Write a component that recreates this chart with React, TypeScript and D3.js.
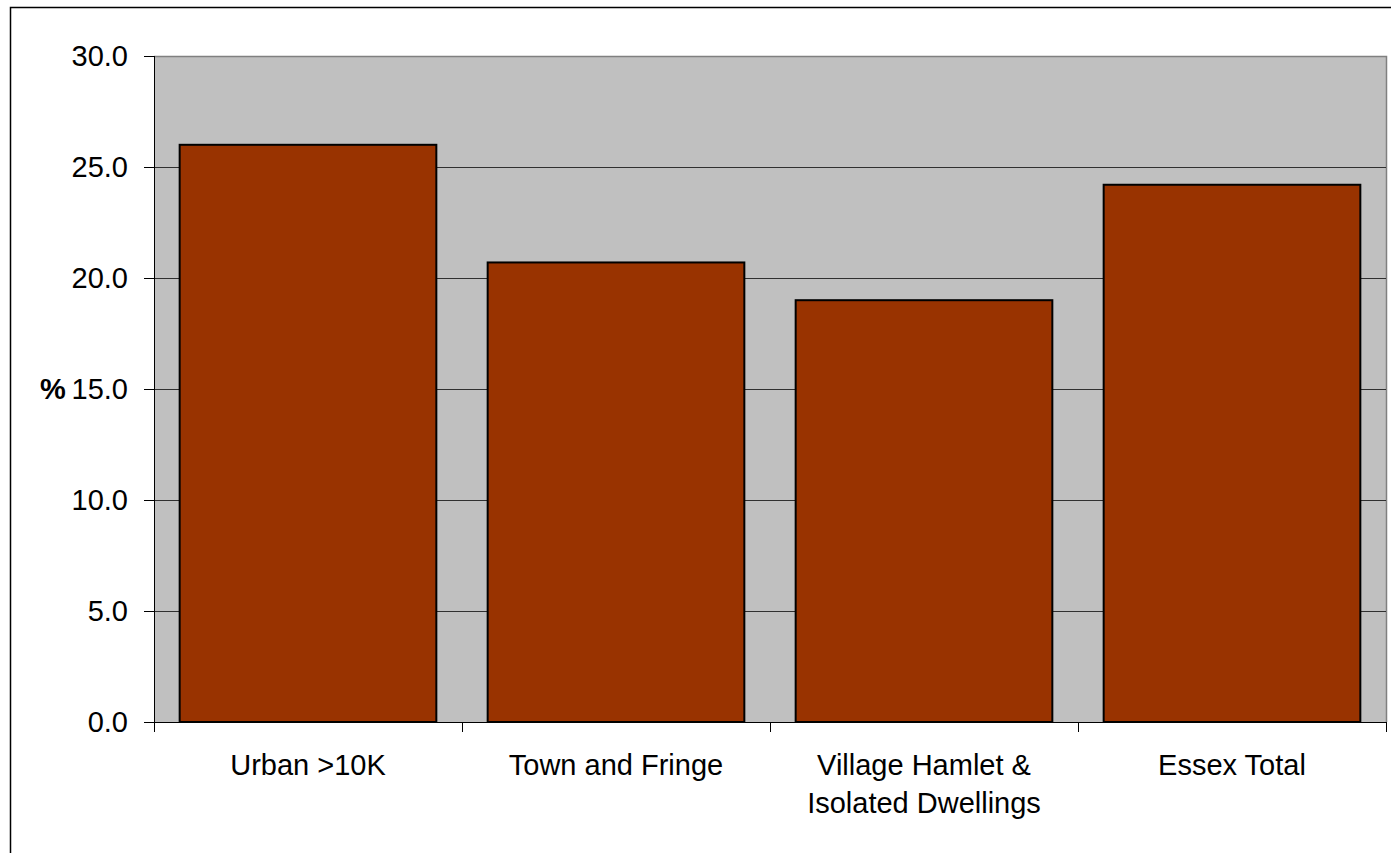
import React from "react";
import * as d3 from "d3";

const categories: string[][] = [
  ["Urban >10K"],
  ["Town and Fringe"],
  ["Village Hamlet &", "Isolated Dwellings"],
  ["Essex Total"],
];
const values: number[] = [26.0, 20.7, 19.0, 24.2];
const yTicks: number[] = [0, 5, 10, 15, 20, 25, 30];
const yAxisTitle = "%";

const W = 1391;
const H = 853;
const plot = { left: 154, right: 1386, top: 56, bottom: 722 };
const FONT = "'Liberation Sans', Arial, sans-serif";

export default function App() {
  const keys = categories.map((_, i) => String(i));
  const x = d3
    .scaleBand<string>()
    .domain(keys)
    .range([plot.left, plot.right])
    .paddingInner(1 / 6)
    .paddingOuter(1 / 12);
  const xOuter = d3.scaleBand<string>().domain(keys).range([plot.left, plot.right]);
  const y = d3.scaleLinear().domain([0, 30]).range([plot.bottom, plot.top]);

  return (
    <svg
      width={W}
      height={H}
      style={{ position: "absolute", left: 0, top: 0, background: "#fff" }}
      fontFamily={FONT}
    >
      {/* outer chart frame */}
      <path d={`M10.5,${H + 5} V7.5 H${W + 5}`} fill="none" stroke="#000" strokeWidth={1.5} />
      {/* plot area */}
      <rect
        x={plot.left}
        y={plot.top}
        width={plot.right - plot.left}
        height={plot.bottom - plot.top}
        fill="#C0C0C0"
      />
      <path
        d={`M${plot.left},${plot.top + 0.5} H${plot.right + 0.5} V${plot.bottom}`}
        fill="none"
        stroke="#808080"
        strokeWidth={1.5}
      />
      {/* gridlines */}
      {yTicks
        .filter((t) => t !== 0 && t !== 30)
        .map((t) => (
          <line
            key={"g" + t}
            x1={plot.left}
            x2={plot.right}
            y1={Math.round(y(t)) + 0.5}
            y2={Math.round(y(t)) + 0.5}
            stroke="#000"
            strokeWidth={1}
            opacity={0.75}
          />
        ))}
      {/* bars */}
      {values.map((v, i) => (
        <rect
          key={"b" + i}
          x={x(String(i))!}
          y={y(v)}
          width={x.bandwidth()}
          height={y(0) - y(v)}
          fill="#993300"
          stroke="#000"
          strokeWidth={2}
        />
      ))}
      {/* y axis */}
      <line x1={plot.left + 0.5} x2={plot.left + 0.5} y1={plot.top} y2={plot.bottom} stroke="#000" />
      {yTicks.map((t) => (
        <g key={"t" + t}>
          <line
            x1={plot.left - 10}
            x2={plot.left}
            y1={Math.round(y(t)) + 0.5}
            y2={Math.round(y(t)) + 0.5}
            stroke="#000"
          />
          <text
            x={128}
            y={y(t)}
            dy="0.35em"
            textAnchor="end"
            fontSize={29}
            fill="#000"
          >
            {t.toFixed(1)}
          </text>
        </g>
      ))}
      <text x={40} y={y(15)} dy="0.35em" fontSize={29} fontWeight="bold" fill="#000">
        {yAxisTitle}
      </text>
      {/* x axis */}
      <line x1={plot.left} x2={plot.right + 1} y1={plot.bottom + 0.5} y2={plot.bottom + 0.5} stroke="#000" />
      {keys.concat(["end"]).map((k, i) => {
        const px = i < keys.length ? xOuter(k)! : plot.right;
        return (
          <line
            key={"xt" + i}
            x1={Math.round(px) + 0.5}
            x2={Math.round(px) + 0.5}
            y1={plot.bottom}
            y2={plot.bottom + 10}
            stroke="#000"
          />
        );
      })}
      {categories.map((lines, i) => {
        const cx = xOuter(String(i))! + xOuter.bandwidth() / 2;
        return (
          <text key={"c" + i} x={cx} y={775} textAnchor="middle" fontSize={29} fill="#000">
            {lines.map((l, j) => (
              <tspan key={j} x={cx} y={775 + j * 38}>
                {l}
              </tspan>
            ))}
          </text>
        );
      })}
    </svg>
  );
}
